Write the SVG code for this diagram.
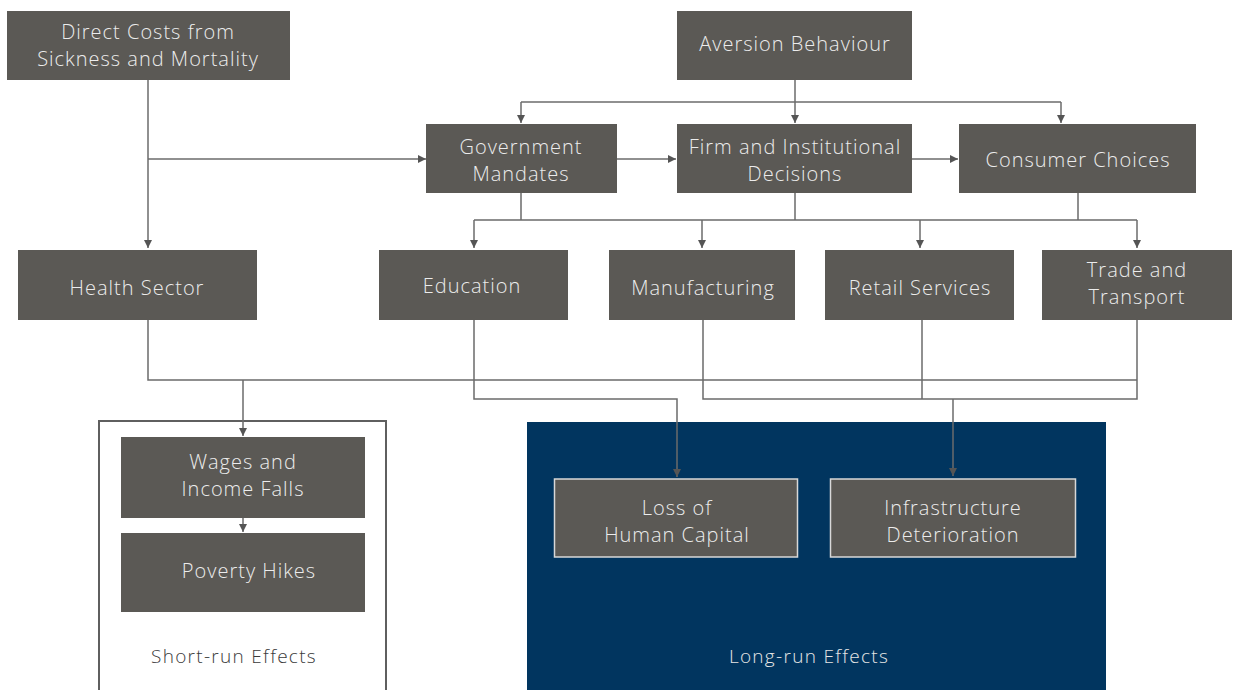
<svg xmlns="http://www.w3.org/2000/svg" width="1234" height="690" viewBox="0 0 1234 690">
<style>
.box{fill:#5b5955}
.lbox{fill:#5b5955;stroke:#d8d8d8;stroke-width:1.5}
.t{font-family:"Open Sans","Liberation Sans",sans-serif;font-weight:300;font-size:20px;letter-spacing:1px;fill:#ececec;text-anchor:middle}
.c{fill:none;stroke:#6b6b6b;stroke-width:1.5}
.cap{font-family:"Open Sans","Liberation Sans",sans-serif;font-weight:300;font-size:19px;letter-spacing:1.3px;text-anchor:middle}
</style>
<defs>
<marker id="ah" viewBox="0 0 10 10" refX="10" refY="5" markerWidth="8" markerHeight="8" markerUnits="userSpaceOnUse" orient="auto">
<path d="M0,0 L10,5 L0,10 z" fill="#555"/>
</marker>
</defs>
<rect width="1234" height="690" fill="#fff"/>
<g id="short-run">
<rect x="99" y="421" width="287" height="275" fill="#fff" stroke="#5f5f5f" stroke-width="2"/>
<text class="cap" x="234" y="663" fill="#3a3a3a">Short-run Effects</text>
</g>
<g id="long-run">
<rect x="527" y="422" width="579" height="270" fill="#01355f"/>
<text class="cap" x="809" y="663" fill="#e6e6e6">Long-run Effects</text>
</g>
<g id="connectors">
<path class="c" d="M148,80 V248" marker-end="url(#ah)"/>
<path class="c" d="M148,159 H426" marker-end="url(#ah)"/>
<path class="c" d="M795,80 V123" marker-end="url(#ah)"/>
<path class="c" d="M521,102 H1061"/>
<path class="c" d="M521,102 V123" marker-end="url(#ah)"/>
<path class="c" d="M1061,102 V123" marker-end="url(#ah)"/>
<path class="c" d="M617,159 H676" marker-end="url(#ah)"/>
<path class="c" d="M912,159 H958" marker-end="url(#ah)"/>
<path class="c" d="M521,193 V220 M795,193 V220 M1078,193 V220 M474,220 H1137"/>
<path class="c" d="M474,220 V248" marker-end="url(#ah)"/>
<path class="c" d="M702,220 V248" marker-end="url(#ah)"/>
<path class="c" d="M920,220 V248" marker-end="url(#ah)"/>
<path class="c" d="M1137,220 V248" marker-end="url(#ah)"/>
<path class="c" d="M148,320 V380 H1137"/>
<path class="c" d="M1137,320 V399 H703 V320"/>
<path class="c" d="M922,320 V399"/>
<path class="c" d="M243,380 V436" marker-end="url(#ah)"/>
<path class="c" d="M474,320 V399 H677 V477" marker-end="url(#ah)"/>
<path class="c" d="M953,399 V476" marker-end="url(#ah)"/>
<path class="c" d="M243,518 V532" marker-end="url(#ah)"/>
</g>
<g id="direct-costs"><rect class="box" x="7" y="11" width="283" height="69"/><text class="t" x="148" y="39">Direct Costs from</text><text class="t" x="148" y="66">Sickness and Mortality</text></g>
<g id="aversion"><rect class="box" x="677" y="11" width="235" height="69"/><text class="t" x="795" y="51">Aversion Behaviour</text></g>
<g id="government"><rect class="box" x="426" y="124" width="191" height="69"/><text class="t" x="521" y="154">Government</text><text class="t" x="521" y="181">Mandates</text></g>
<g id="firm"><rect class="box" x="677" y="124" width="235" height="69"/><text class="t" x="795" y="154">Firm and Institutional</text><text class="t" x="795" y="181">Decisions</text></g>
<g id="consumer"><rect class="box" x="959" y="124" width="237" height="69"/><text class="t" x="1078" y="167">Consumer Choices</text></g>
<g id="health"><rect class="box" x="18" y="250" width="239" height="70"/><text class="t" x="137" y="295">Health Sector</text></g>
<g id="education"><rect class="box" x="379" y="250" width="189" height="70"/><text class="t" x="472" y="293">Education</text></g>
<g id="manufacturing"><rect class="box" x="609" y="250" width="186" height="70"/><text class="t" x="703" y="295">Manufacturing</text></g>
<g id="retail"><rect class="box" x="825" y="250" width="189" height="70"/><text class="t" x="920" y="295">Retail Services</text></g>
<g id="trade"><rect class="box" x="1042" y="250" width="190" height="70"/><text class="t" x="1137" y="277">Trade and</text><text class="t" x="1137" y="304">Transport</text></g>
<g id="wages"><rect class="box" x="121" y="437" width="244" height="81"/><text class="t" x="243" y="469">Wages and</text><text class="t" x="243" y="496">Income Falls</text></g>
<g id="poverty"><rect class="box" x="121" y="533" width="244" height="79"/><text class="t" x="249" y="578">Poverty Hikes</text></g>
<g id="human-capital"><rect class="lbox" x="554.5" y="479" width="243" height="78"/><text class="t" x="677" y="515">Loss of</text><text class="t" x="677" y="542">Human Capital</text></g>
<g id="infrastructure"><rect class="lbox" x="830.5" y="479" width="245" height="78"/><text class="t" x="953" y="515">Infrastructure</text><text class="t" x="953" y="542">Deterioration</text></g>
</svg>
